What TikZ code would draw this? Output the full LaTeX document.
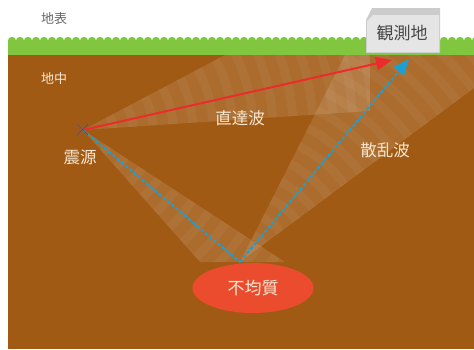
\documentclass[tikz,border=0pt]{standalone}
\usepackage{fontspec}
\newfontfamily\jp{Noto Sans CJK JP}
\usepackage{tikz}
\usetikzlibrary{arrows.meta,shapes.geometric}

\definecolor{soil}{RGB}{161,90,20}
\definecolor{grass}{RGB}{128,198,62}
\definecolor{hetero}{RGB}{236,76,46}
\definecolor{direct}{RGB}{236,44,44}
\definecolor{scatter}{RGB}{28,160,212}
\definecolor{cream}{RGB}{246,232,212}

\tikzset{
  beam/.style={fill=white,fill opacity=0.11},
  band/.style={draw=white,draw opacity=0.045,line width=9pt},
  lbl/.style={text=cream,font=\jp\fontsize{16.5}{16.5}\selectfont},
  ray/.style={line width=2pt},
}

\begin{document}
\begin{tikzpicture}[x=1pt,y=-1pt]
    \useasboundingbox (0,0) rectangle (474,349);
    \fill[white] (0,0) rectangle (474,349);
    % ground and grass
    \fill[soil] (8,55) rectangle (474,349);
    \fill[grass] (8,41) rectangle (474,55);
    \foreach \i in {0,...,58}
        \fill[grass] (12+\i*8,41) circle (4.2);
    % wave beams
    \begin{scope}
        \clip (83,130) -- (225,55) -- (370,55) -- (370,111) -- cycle;
        \fill[beam] (83,130) -- (225,55) -- (370,55) -- (370,111) -- cycle;
        \foreach \r in {30,50,...,330}
            \draw[band] (83,130) circle (\r);
    \end{scope}
    \begin{scope}
        \clip (83,130) -- (200,262) -- (285,262) -- cycle;
        \fill[beam] (83,130) -- (200,262) -- (285,262) -- cycle;
        \foreach \r in {30,50,...,230}
            \draw[band] (83,130) circle (\r);
    \end{scope}
    \begin{scope}
        \clip (240,262) -- (345,55) -- (474,55) -- (474,88) -- cycle;
        \fill[beam] (240,262) -- (345,55) -- (474,55) -- (474,88) -- cycle;
        \foreach \r in {30,50,...,330}
            \draw[band] (240,262) circle (\r);
    \end{scope}
    % observation point
    \fill[gray!40] (366,53) -- (366,20) -- (372,8) -- (440,8) -- (440,53) -- cycle;
    \fill[gray!20] (367,52) -- (367,21) -- (373,15) -- (439,15) -- (439,52) -- cycle;
    \node[font=\jp\fontsize{17}{17}\selectfont,text=black!72] (obs) at (402,33) {観測地};
    \coordinate (obsR) at (392,60);
    \coordinate (obsB) at (409,59);
    % source, heterogeneity
    \coordinate (src) at (83,130);
    \coordinate (hit) at (240,262);
    \node[ellipse,fill=hetero,minimum width=121,minimum height=50,
        text=cream,font=\jp\fontsize{17}{17}\selectfont] (het) at (253,288) {不均質};
    % rays
    \draw[direct,ray,-{Triangle[length=16pt,width=13pt]}] (src) -- (obsR);
    \draw[scatter,ray,dash pattern=on 3.5pt off 2pt] (src) -- (hit);
    \draw[scatter,ray,dash pattern=on 3.5pt off 2pt,-{Triangle[length=16pt,width=13pt]}] (hit) -- (obsB);
    \draw[black!55,line width=1.4pt] (77,124) -- (88,135) (77,135) -- (88,124);
    \draw[direct!80!black,line width=0.7pt] (77,124) -- (88,135) (77,135) -- (88,124);
    % labels
    \node[text=black!60,font=\jp\fontsize{13}{13}\selectfont] (surf) at (54,19) {地表};
    \node[lbl,font=\jp\fontsize{13}{13}\selectfont] (under) at (54,79) {地中};
    \node[lbl] (srclbl) at (80,157) {震源};
    \node[lbl] (dirlbl) at (240,118) {直達波};
    \node[lbl] (scalbl) at (385,150) {散乱波};
\end{tikzpicture}
\end{document}
